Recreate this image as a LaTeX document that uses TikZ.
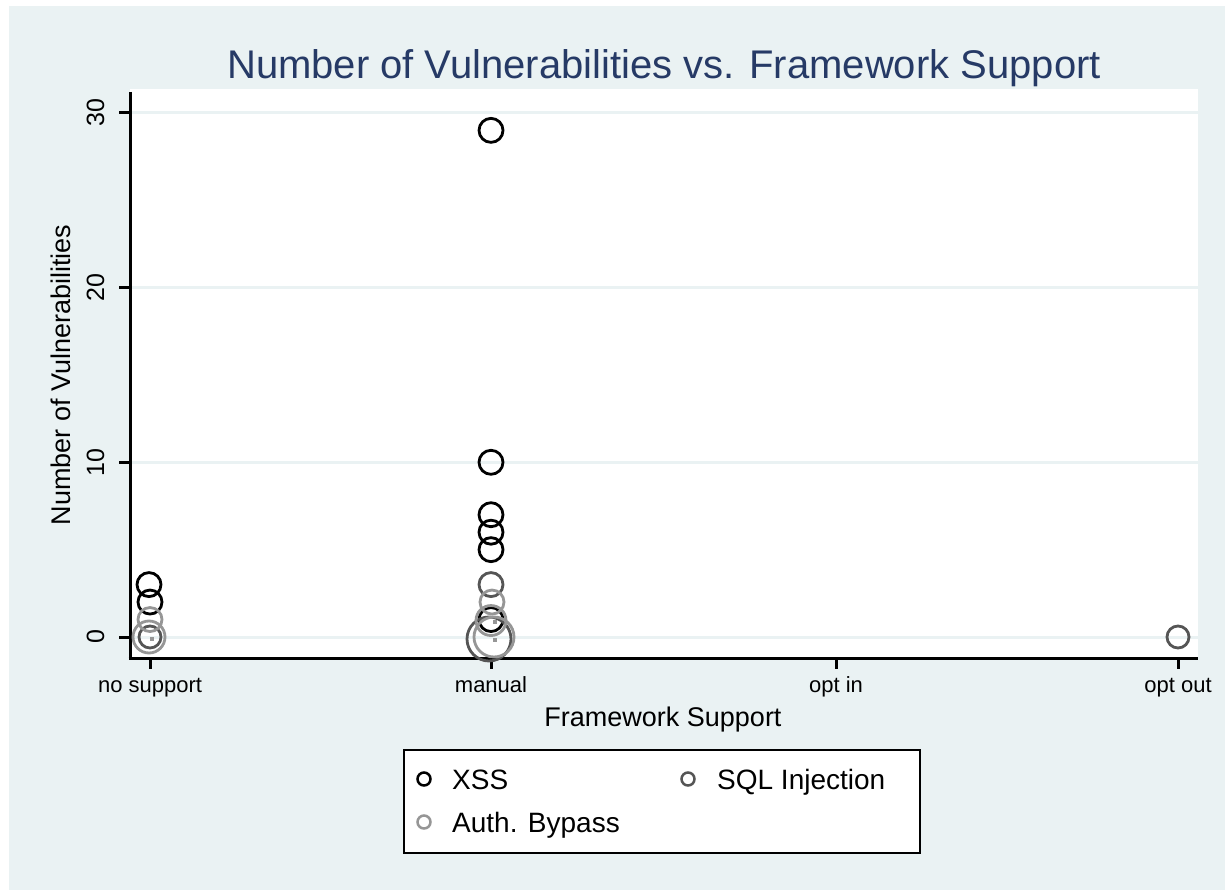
\documentclass[tikz,border=0pt]{standalone}
\usepackage{fontspec}
\setmainfont{Liberation Sans}
\definecolor{bgcol}{RGB}{234,242,243}
\definecolor{gridcol}{RGB}{234,242,243}
\definecolor{titlecol}{RGB}{38,58,102}
\definecolor{sqlcol}{RGB}{85,85,85}
\definecolor{authcol}{RGB}{150,150,150}
\tikzset{
  axisline/.style={draw=black, line width=3pt},
  gridline/.style={draw=gridcol, line width=3pt},
  ticklabel/.style={font=\fontsize{22}{22}\selectfont, inner sep=0pt, anchor=base},
  ylabelstyle/.style={font=\fontsize{25}{25}\selectfont, inner sep=0pt, rotate=90, anchor=base},
  axistitle/.style={font=\fontsize{27}{27}\selectfont, inner sep=0pt, anchor=base},
  xssmark/.style={draw=black, line width=2.8pt},
  sqlmark/.style={draw=sqlcol, line width=2.8pt},
  authmark/.style={draw=authcol, line width=2.8pt},
  centredot/.style={fill=authcol},
  legtext/.style={font=\fontsize{28}{28}\selectfont, inner sep=0pt, anchor=base west},
}
\newcommand{\yat}[1]{637-17.47*#1}
\begin{document}
\begin{tikzpicture}[x=1pt,y=-1pt]
\useasboundingbox (0,0) rectangle (1225,890);
% outer frame and background
\fill[white] (0,0) rectangle (1225,890);
\fill[bgcol] (9,6) rectangle (1225,890);
% plot region
\fill[white] (130,89) rectangle (1198,657);
% horizontal grid lines
\foreach \v in {0,10,20,30} {
  \draw[gridline] (131,{\yat{\v}}) -- (1198,{\yat{\v}});
}
% title
\node[font=\fontsize{40}{40}\selectfont, text=titlecol, inner sep=0pt, anchor=base] (title) at (664,79) {Number of Vulnerabilities vs. Framework Support};
% y axis with ticks and labels
\coordinate (ytop) at (130,92);
\coordinate (origin) at (130,658);
\draw[axisline] (ytop) -- (origin);
\foreach \v/\nm in {0/y0,10/y10,20/y20,30/y30} {
  \draw[axisline] (119,{\yat{\v}}) -- (130,{\yat{\v}});
  \node[ylabelstyle] (\nm) at (104,{\yat{\v}}) {\v};
}
\node[axistitle, rotate=90] (ytitle) at (70,375) {Number of Vulnerabilities};
% x axis with ticks and labels
\coordinate (xright) at (1198,658);
\draw[axisline] (128.5,658) -- (xright);
\foreach \x/\lab/\nm in {150/no support/xa,491/manual/xb,836/opt in/xc,1178/opt out/xd} {
  \draw[axisline] (\x,658) -- (\x,669);
  \node[ticklabel] (\nm) at (\x,692) {\lab};
}
\node[axistitle] (xtitle) at (663,726) {Framework Support};
% ---- data: no support ----
\draw[xssmark] (149,{\yat{3}}) circle (12);
\draw[xssmark] (150,{\yat{2}}) circle (12);
\draw[sqlmark] (150,{\yat{0}}) circle (11);
\draw[authmark] (150,{\yat{1}}) circle (12);
\draw[authmark] (149,{\yat{0}}) circle (16);
\fill[centredot] (150,637) rectangle (154,641);
% ---- data: manual ----
\foreach \v in {29,10,7,6,5,1} {
  \draw[xssmark] (491,{\yat{\v}}) circle (12);
}
\draw[sqlmark] (491,{\yat{3}}) circle (12);
\draw[sqlmark] (489,{\yat{0}+2}) circle (22);
\draw[authmark] (492,{\yat{2}}) circle (12);
\draw[authmark] (491,{\yat{1}+1}) circle (15);
\draw[authmark] (494,{\yat{0}}) circle (20);
\fill[centredot] (493,620) rectangle (497,624);
\fill[centredot] (493,638) rectangle (497,642);
% ---- data: opt out ----
\draw[sqlmark] (1178,{\yat{0}}) circle (11);
% legend
\node[draw=black, line width=2pt, fill=white, minimum width=516pt, minimum height=103pt, inner sep=0pt] (legend) at (662,801.5) {};
\draw[black, line width=2.5pt] (424,779) circle (6.5);
\node[legtext] (lxss) at (452,789) {XSS};
\draw[sqlcol, line width=2.5pt] (688,779) circle (6.5);
\node[legtext] (lsql) at (717,789) {SQL Injection};
\draw[authcol, line width=2.5pt] (424,822) circle (6.5);
\node[legtext] (lauth) at (452,832) {Auth. Bypass};
\end{tikzpicture}
\end{document}
